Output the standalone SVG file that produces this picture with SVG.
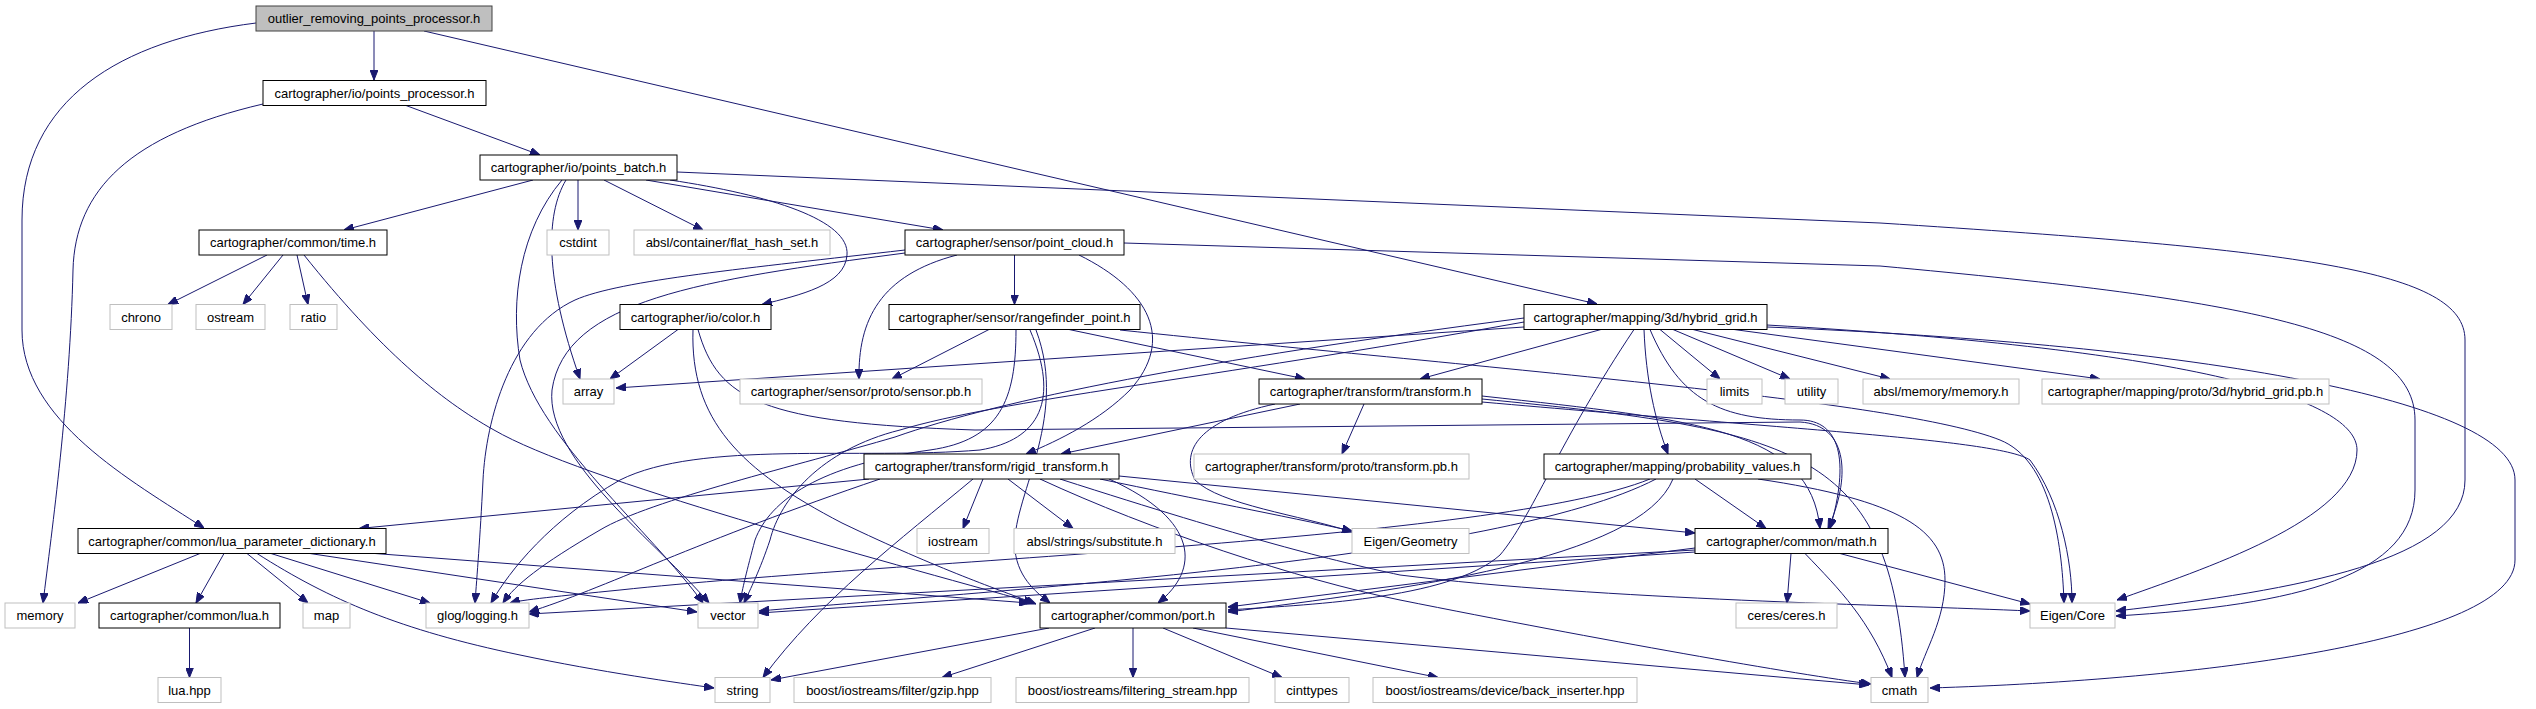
<svg xmlns="http://www.w3.org/2000/svg" width="2536" height="709" viewBox="0 0 2536 709">
<defs>
<marker id="a" markerWidth="10" markerHeight="8" refX="10" refY="4" orient="auto" markerUnits="userSpaceOnUse"><path d="M0,0 L10,4 L0,8 z" fill="#191970" stroke="#191970" stroke-width="1"/></marker>
</defs>
<style>
rect{fill:#fff;stroke-width:1}
.d rect{stroke:#000}
.x rect{stroke:#bfbfbf}
.r rect{fill:#bfbfbf;stroke:#404040}
text{font-family:"Liberation Sans",Arial,Helvetica,sans-serif;font-size:13px;text-anchor:middle;fill:#000}
#edges path{fill:none;stroke:#191970;stroke-width:1;marker-end:url(#a)}
</style>
<rect x="0" y="0" width="2536" height="709" style="fill:#fff;stroke:none"/>
<g id="edges">
<path d="M374,31 L374,80"/>
<path d="M256,23 C120,40 22,100 22,220 L22,330 C22,420 130,480 204,528"/>
<path d="M424,31 L1597,304"/>
<path d="M263,104 C130,135 75,190 73,270 C70,400 52,530 43,603"/>
<path d="M406,105.5 L540,155"/>
<path d="M533,180 L344,230"/>
<path d="M578,180 L578,230"/>
<path d="M604,180 L703,230"/>
<path d="M646,180 L943,230"/>
<path d="M670,180 C770,195 850,220 847,255 C845,285 800,295 762,304.5"/>
<path d="M677,172 L1880,223 C2300,250 2465,270 2465,340 L2465,480 C2465,560 2300,590 2116,611"/>
<path d="M566,180 C545,215 545,280 580,379"/>
<path d="M562,180 C520,230 510,300 520,360 C540,440 650,530 703,603"/>
<path d="M267,255 L168,304.5"/>
<path d="M283,255 L243,304.5"/>
<path d="M297,255 L308,304.5"/>
<path d="M304,255 C380,350 440,400 494,430 C580,480 880,560 1034,603"/>
<path d="M957,255 C880,275 858,320 859,379"/>
<path d="M1014.5,255 L1014.5,304.5"/>
<path d="M1079,255 C1150,290 1175,340 1130,390 C1100,420 1060,440 1026,454"/>
<path d="M1124,243 L1880,266 C2250,300 2415,330 2415,420 L2415,490 C2415,575 2300,605 2116,616"/>
<path d="M905,250 C750,268 620,280 575,300 C510,330 486,420 483,480 C480,540 477,575 475,603"/>
<path d="M905,253 C700,280 565,300 552,390 C545,460 660,545 709,603"/>
<path d="M989,329.5 L892,379"/>
<path d="M1069,329.5 L1305,379"/>
<path d="M1120,330 C1500,370 1900,400 2000,440 C2050,460 2062,540 2064,603"/>
<path d="M1016,330 C1016,400 1000,440 930,450 C820,465 770,500 755,540 C747,570 742,590 740,603"/>
<path d="M1030,330 C1060,400 1040,440 980,450 C860,460 700,440 620,480 C550,520 510,570 491,603"/>
<path d="M1036,330 C1070,420 1010,500 1015,550 C1018,580 1040,595 1050,603"/>
<path d="M1524,327 L616,388"/>
<path d="M1601,329.5 L1420,379"/>
<path d="M1660,329.5 L1720,379"/>
<path d="M1673,329.5 L1790,379"/>
<path d="M1693,329.5 L1890,379"/>
<path d="M1734,329.5 L2100,379"/>
<path d="M1644,329.5 C1646,380 1655,420 1668,454"/>
<path d="M1650,329.5 C1680,400 1720,420 1800,420 C1840,420 1850,460 1830,528.5"/>
<path d="M1634,329.5 C1560,440 1530,520 1500,555 C1450,600 1300,605 1228,610"/>
<path d="M1767,327 C2200,345 2515,400 2515,480 L2515,560 C2515,640 2200,680 1930,688"/>
<path d="M1767,325 C2200,350 2357,400 2357,450 C2357,520 2200,570 2117,600"/>
<path d="M1524,322 C1200,380 1000,400 900,430 C820,450 780,500 770,540 C760,570 750,590 744,603"/>
<path d="M1524,318 C1200,360 1000,400 895,437 C800,465 650,500 600,530 C540,565 515,585 503,603"/>
<path d="M1364,404 L1342,454"/>
<path d="M1300,404 L1061,454"/>
<path d="M1275,404 C1200,420 1180,450 1195,480 C1220,505 1300,515 1352,532"/>
<path d="M1482,396 C1700,420 1810,430 1820,528.5"/>
<path d="M1482,399 C1800,430 1890,450 1905,677.5"/>
<path d="M1482,402 C1800,430 2000,440 2030,460 C2060,500 2072,560 2072,603"/>
<path d="M869,479 L359,528.5"/>
<path d="M983,479 L963,528.5"/>
<path d="M1008,479 L1073,528.5"/>
<path d="M973,479 C900,540 820,600 763,677.5"/>
<path d="M1109,479 C1200,520 1200,570 1158,603"/>
<path d="M1100,479 C1200,500 1280,515 1352,531"/>
<path d="M1119,476 L1695,533"/>
<path d="M1060,479 C1250,540 1330,560 1400,575 C1600,600 1900,605 2030,611"/>
<path d="M1040,479 C1150,530 1300,580 1400,600 C1600,640 1800,675 1871,684"/>
<path d="M880,479 C700,540 600,590 529,612"/>
<path d="M1695,548 L1228,607"/>
<path d="M1695,552 L759,613"/>
<path d="M1695,550 L529,614"/>
<path d="M1791,553.5 L1787,603"/>
<path d="M1805,553.5 C1840,590 1870,620 1892,677.5"/>
<path d="M1840,553.5 L2030,604"/>
<path d="M1758,479 C1900,500 1945,530 1945,580 C1945,620 1925,650 1917,677.5"/>
<path d="M1695,479 L1766,528.5"/>
<path d="M1673,479 C1640,560 1400,590 1228,612"/>
<path d="M1656,479 C1500,560 1000,590 759,611"/>
<path d="M1650,479 C1500,540 900,560 620,590 C560,596 520,600 510,603"/>
<path d="M200,553.5 L78,603"/>
<path d="M224,553.5 L196,603"/>
<path d="M247,553.5 L308,603"/>
<path d="M271,553.5 L430,603"/>
<path d="M257,553.5 C330,600 400,630 520,655 C600,672 680,683 714,688"/>
<path d="M310,553.5 L697,612"/>
<path d="M375,553.5 L1029,603"/>
<path d="M189.5,628 L189.5,677.5"/>
<path d="M1049,628 L771,680"/>
<path d="M1095,628 L942,677.5"/>
<path d="M1133,628 L1133,677.5"/>
<path d="M1163,628 L1282,677.5"/>
<path d="M1193,628 L1438,677.5"/>
<path d="M1226,628 L1869,685"/>
<path d="M678,329.5 L610,379"/>
<path d="M693,329.5 C690,420 740,470 842,523 C940,570 1000,590 1036,604"/>
<path d="M698,329.5 C718,400 761,423 975,430 L1800,422 C1850,425 1850,480 1828,528.5"/>
</g>
<g id="n0" class="r"><rect x="256" y="6" width="236" height="25"/><text x="374" y="23">outlier_removing_points_processor.h</text></g>
<g id="n1" class="d"><rect x="263" y="80.5" width="223" height="25"/><text x="374.5" y="97.5">cartographer/io/points_processor.h</text></g>
<g id="n2" class="d"><rect x="480" y="155" width="197" height="25"/><text x="578.5" y="172">cartographer/io/points_batch.h</text></g>
<g id="n3" class="d"><rect x="199" y="230" width="188" height="25"/><text x="293" y="247">cartographer/common/time.h</text></g>
<g id="n4" class="x"><rect x="547" y="230" width="62" height="25"/><text x="578" y="247">cstdint</text></g>
<g id="n5" class="x"><rect x="634" y="230" width="196" height="25"/><text x="732" y="247">absl/container/flat_hash_set.h</text></g>
<g id="n6" class="d"><rect x="905" y="230" width="219" height="25"/><text x="1014.5" y="247">cartographer/sensor/point_cloud.h</text></g>
<g id="n7" class="x"><rect x="110" y="304.5" width="62" height="25"/><text x="141" y="321.5">chrono</text></g>
<g id="n8" class="x"><rect x="196" y="304.5" width="69" height="25"/><text x="230.5" y="321.5">ostream</text></g>
<g id="n9" class="x"><rect x="290" y="304.5" width="47" height="25"/><text x="313.5" y="321.5">ratio</text></g>
<g id="n10" class="d"><rect x="620" y="304.5" width="151" height="25"/><text x="695.5" y="321.5">cartographer/io/color.h</text></g>
<g id="n11" class="d"><rect x="889" y="304.5" width="251" height="25"/><text x="1014.5" y="321.5">cartographer/sensor/rangefinder_point.h</text></g>
<g id="n12" class="d"><rect x="1524" y="304.5" width="243" height="25"/><text x="1645.5" y="321.5">cartographer/mapping/3d/hybrid_grid.h</text></g>
<g id="n13" class="x"><rect x="563" y="379" width="51" height="25"/><text x="588.5" y="396">array</text></g>
<g id="n14" class="x"><rect x="740" y="379" width="242" height="25"/><text x="861" y="396">cartographer/sensor/proto/sensor.pb.h</text></g>
<g id="n15" class="d"><rect x="1259" y="379" width="223" height="25"/><text x="1370.5" y="396">cartographer/transform/transform.h</text></g>
<g id="n16" class="x"><rect x="1707" y="379" width="55" height="25"/><text x="1734.5" y="396">limits</text></g>
<g id="n17" class="x"><rect x="1785" y="379" width="53" height="25"/><text x="1811.5" y="396">utility</text></g>
<g id="n18" class="x"><rect x="1863" y="379" width="156" height="25"/><text x="1941" y="396">absl/memory/memory.h</text></g>
<g id="n19" class="x"><rect x="2042" y="379" width="287" height="25"/><text x="2185.5" y="396">cartographer/mapping/proto/3d/hybrid_grid.pb.h</text></g>
<g id="n20" class="d"><rect x="864" y="454" width="255" height="25"/><text x="991.5" y="471">cartographer/transform/rigid_transform.h</text></g>
<g id="n21" class="x"><rect x="1194" y="454" width="275" height="25"/><text x="1331.5" y="471">cartographer/transform/proto/transform.pb.h</text></g>
<g id="n22" class="d"><rect x="1544" y="454" width="267" height="25"/><text x="1677.5" y="471">cartographer/mapping/probability_values.h</text></g>
<g id="n23" class="d"><rect x="78" y="528.5" width="308" height="25"/><text x="232" y="545.5">cartographer/common/lua_parameter_dictionary.h</text></g>
<g id="n24" class="x"><rect x="917" y="528.5" width="72" height="25"/><text x="953" y="545.5">iostream</text></g>
<g id="n25" class="x"><rect x="1014" y="528.5" width="161" height="25"/><text x="1094.5" y="545.5">absl/strings/substitute.h</text></g>
<g id="n26" class="x"><rect x="1352" y="528.5" width="117" height="25"/><text x="1410.5" y="545.5">Eigen/Geometry</text></g>
<g id="n27" class="d"><rect x="1695" y="528.5" width="193" height="25"/><text x="1791.5" y="545.5">cartographer/common/math.h</text></g>
<g id="n28" class="x"><rect x="5" y="603" width="70" height="25"/><text x="40" y="620">memory</text></g>
<g id="n29" class="d"><rect x="99" y="603" width="181" height="25"/><text x="189.5" y="620">cartographer/common/lua.h</text></g>
<g id="n30" class="x"><rect x="303" y="603" width="47" height="25"/><text x="326.5" y="620">map</text></g>
<g id="n31" class="x"><rect x="426" y="603" width="103" height="25"/><text x="477.5" y="620">glog/logging.h</text></g>
<g id="n32" class="x"><rect x="698" y="603" width="60" height="25"/><text x="728" y="620">vector</text></g>
<g id="n33" class="d"><rect x="1040" y="603" width="186" height="25"/><text x="1133" y="620">cartographer/common/port.h</text></g>
<g id="n34" class="x"><rect x="1736" y="603" width="101" height="25"/><text x="1786.5" y="620">ceres/ceres.h</text></g>
<g id="n35" class="x"><rect x="2030" y="603" width="85" height="25"/><text x="2072.5" y="620">Eigen/Core</text></g>
<g id="n36" class="x"><rect x="158" y="677.5" width="63" height="25"/><text x="189.5" y="694.5">lua.hpp</text></g>
<g id="n37" class="x"><rect x="715" y="677.5" width="55" height="25"/><text x="742.5" y="694.5">string</text></g>
<g id="n38" class="x"><rect x="794" y="677.5" width="197" height="25"/><text x="892.5" y="694.5">boost/iostreams/filter/gzip.hpp</text></g>
<g id="n39" class="x"><rect x="1016" y="677.5" width="233" height="25"/><text x="1132.5" y="694.5">boost/iostreams/filtering_stream.hpp</text></g>
<g id="n40" class="x"><rect x="1275" y="677.5" width="74" height="25"/><text x="1312" y="694.5">cinttypes</text></g>
<g id="n41" class="x"><rect x="1373" y="677.5" width="264" height="25"/><text x="1505" y="694.5">boost/iostreams/device/back_inserter.hpp</text></g>
<g id="n42" class="x"><rect x="1871" y="677.5" width="57" height="25"/><text x="1899.5" y="694.5">cmath</text></g>
</svg>
